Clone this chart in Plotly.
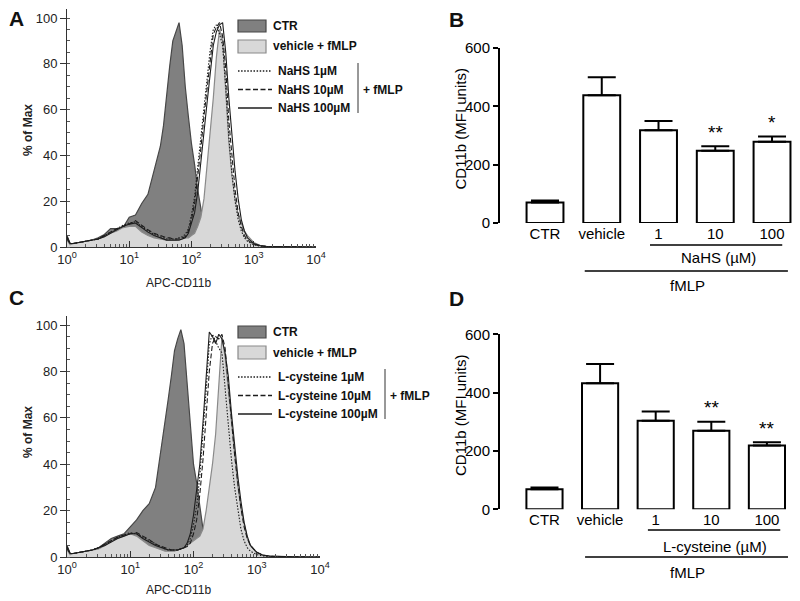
import plotly.graph_objects as go

# ---------------- DATA ----------------
# histogram channel grid (decade exponent of APC-CD11b fluorescence)
x_exp = [0.0, 0.05, 0.1, 0.2, 0.3, 0.4, 0.5, 0.6, 0.7, 0.8, 0.9, 1.0, 1.1, 1.2, 1.3, 1.4, 1.5,
         1.55, 1.6, 1.65, 1.7, 1.75, 1.8, 1.85, 1.9, 1.95, 2.0, 2.05, 2.1, 2.15, 2.2, 2.25, 2.3,
         2.35, 2.4, 2.45, 2.5, 2.55, 2.6, 2.65, 2.7, 2.75, 2.8, 2.85, 2.9, 3.0, 3.1, 3.2, 3.4,
         3.6, 3.8, 4.0]

# Panel A (% of Max)
A_ctr = [5, 1.5, 1.5, 2, 2.5, 3, 4, 5.5, 8, 8, 8.5, 13, 14, 19, 23, 34, 44,
         53, 67, 79, 90, 94, 98, 88, 70, 57, 45, 36, 25, 17, 9, 5, 3,
         2, 1.5, 1, 1, 0.7, 0.5, 0.4, 0.3, 0.2, 0.2, 0.1, 0.1, 0, 0, 0, 0,
         0, 0, 0]
A_vehicle = [3, 1, 1.5, 2, 2.5, 3, 3.5, 4.5, 6, 7, 8.5, 9, 9, 6.5, 5, 4, 3.5,
             3, 3, 3, 3, 3, 3.5, 3.5, 4, 4, 5, 6, 9, 13, 21, 35, 50,
             65, 83, 95, 90, 66, 46, 31, 21, 14, 10, 7, 5, 2, 0.7, 0.3, 0.2,
             0.1, 0.1, 0]
A_nahs1 = [4, 1.5, 1.5, 2, 2.5, 3, 3.5, 5, 6.5, 8, 9.5, 10.5, 11, 9, 7, 5.5, 4.5,
           4, 3.5, 3.5, 3.5, 3.5, 4, 4.5, 5.5, 8, 14, 22, 35, 48, 60, 72, 86,
           95, 97, 93, 88, 70, 48, 32, 20, 12, 7, 4, 2.5, 1, 0.4, 0.2, 0.1,
           0.1, 0, 0]
A_nahs10 = [3.5, 1.5, 1.5, 2, 2.5, 3, 3.5, 5, 6.5, 8, 9, 10, 11.5, 9.5, 7.5, 6, 5,
            4.5, 4, 4, 3.5, 3.5, 3.5, 4, 4.5, 7, 12, 19, 30, 43, 57, 70, 83,
            93, 96, 98, 92, 78, 55, 38, 25, 15, 9, 5, 3, 1.2, 0.5, 0.2, 0.1,
            0.1, 0, 0]
A_nahs100 = [4.5, 1.5, 1.5, 2, 2.5, 3, 3.5, 4.5, 6, 7.5, 9, 10, 10.5, 8.5, 6.5, 5, 4,
             3.5, 3, 3, 3, 3, 3, 3.5, 4, 6, 10, 15, 24, 36, 50, 63, 77,
             88, 94, 97, 98, 85, 65, 47, 33, 21, 12, 7, 4, 1.5, 0.6, 0.3, 0.1,
             0.1, 0, 0]

# Panel C (% of Max)
C_ctr = [5, 1.5, 1.5, 2, 2.5, 3, 4, 6, 8, 9, 10, 13, 16, 20, 23, 30, 48,
         58, 68, 78, 89, 94, 98, 92, 74, 55, 40, 32, 22, 12, 6, 3, 2,
         1.5, 1, 0.8, 0.5, 0.4, 0.3, 0.2, 0.2, 0.1, 0.1, 0.1, 0, 0, 0, 0, 0,
         0, 0, 0]
C_vehicle = [3, 1, 1.5, 2, 2.5, 3, 3.5, 5, 7, 8, 9, 10, 9, 7, 5, 4, 3,
             2.5, 2.5, 2.5, 2.5, 3, 3.5, 4, 5, 6, 7, 8, 9, 12, 20, 30, 40,
             53, 75, 95, 86, 72, 59, 42, 31, 21, 14, 8, 5, 1.7, 0.7, 0.4, 0.2,
             0.1, 0.1, 0]
C_lcys1 = [4, 1.5, 1.5, 2, 2.5, 3, 4, 5.5, 7, 8.5, 9.5, 10.5, 10, 8.5, 7, 5.5, 4,
           3.5, 3, 3, 3, 3, 3.5, 4, 5, 8, 14, 22, 35, 52, 72, 92, 96,
           93, 90, 88, 72, 55, 42, 30, 20, 12, 7, 4, 2.5, 1, 0.4, 0.2, 0.1,
           0, 0, 0]
C_lcys10 = [3.5, 1.5, 1.5, 2, 2.5, 3, 4, 5.5, 7, 8.5, 9.5, 10, 10.5, 9, 7.5, 5.5, 4.5,
            4, 3.5, 3, 3, 3, 3.5, 4, 4.5, 6, 10, 16, 27, 42, 60, 80, 92,
            95, 94, 96, 90, 74, 58, 44, 32, 21, 13, 8, 5, 2, 0.8, 0.3, 0.1,
            0.1, 0, 0]
C_lcys100 = [4.5, 1.5, 1.5, 2, 2.5, 3, 4, 5, 6.5, 8, 9, 10, 10, 8, 6.5, 5, 4,
             3.5, 3, 3, 3, 3, 3.5, 4, 6, 10, 18, 28, 40, 58, 78, 97, 95,
             92, 96, 94, 88, 78, 62, 48, 35, 24, 15, 9, 5, 2, 0.8, 0.4, 0.1,
             0.1, 0, 0]

# Bar panels (CD11b MFI units, mean and SEM)
categories = ["CTR", "vehicle", "1", "10", "100"]
B_mean = [70, 438, 318, 248, 279]
B_sem = [7, 62, 32, 15, 18]
B_sig = ["", "", "", "**", "*"]
D_mean = [69, 432, 304, 269, 219]
D_sem = [6, 66, 31, 31, 11]
D_sig = ["", "", "", "**", "**"]

hist_yticks = [0, 20, 40, 60, 80, 100]
hist_xticks = [1, 10, 100, 1000, 10000]
hist_xticktext = ["10<sup>0</sup>", "10<sup>1</sup>", "10<sup>2</sup>", "10<sup>3</sup>", "10<sup>4</sup>"]
bar_yticks = [0, 200, 400, 600]

# ---------------- FIGURE ----------------
# the page body has an 8px default margin, so the figure is drawn 8px smaller
OFF = 8
W, H = 800 - OFF, 601 - OFF
FONT = "Liberation Sans, Arial, sans-serif"
DARK_FILL, DARK_LINE = "#808080", "#474747"
LIGHT_FILL, LIGHT_LINE = "#d8d8d8", "#8a8a8a"
INK = "#1c1c1c"
DOT = "1.5px,1.6px"
DASH = "5px,2.5px"


def X(px):
    return (px - OFF) / W


def Y(py):
    return 1 - (py - OFF) / H


fig = go.Figure()
xs = [10 ** e for e in x_exp]


def hist_panel(xa, ya, ctr, veh, s1, s10, s100):
    fig.add_trace(go.Scatter(x=xs, y=ctr, xaxis=xa, yaxis=ya, mode="lines", fill="tozeroy",
                             fillcolor=DARK_FILL, line=dict(color=DARK_LINE, width=1.2),
                             showlegend=False, hoverinfo="skip"))
    fig.add_trace(go.Scatter(x=xs, y=veh, xaxis=xa, yaxis=ya, mode="lines", fill="tozeroy",
                             fillcolor=LIGHT_FILL, line=dict(color=LIGHT_LINE, width=1.2),
                             showlegend=False, hoverinfo="skip"))
    for yv, dash in [(s1, DOT), (s10, DASH), (s100, "solid")]:
        fig.add_trace(go.Scatter(x=xs, y=yv, xaxis=xa, yaxis=ya, mode="lines",
                                 line=dict(color=INK, width=1.1, dash=dash),
                                 showlegend=False, hoverinfo="skip"))


hist_panel("x", "y", A_ctr, A_vehicle, A_nahs1, A_nahs10, A_nahs100)
hist_panel("x3", "y3", C_ctr, C_vehicle, C_lcys1, C_lcys10, C_lcys100)


def bar_panel(xa, ya, mean, sem):
    fig.add_trace(go.Bar(x=list(range(len(categories))), y=mean, xaxis=xa, yaxis=ya, width=0.65,
                         marker=dict(color="white", line=dict(color="black", width=2)),
                         error_y=dict(type="data", array=sem, arrayminus=[0] * len(sem),
                                      symmetric=False, color="black", thickness=2, width=14),
                         showlegend=False, hoverinfo="skip"))


bar_panel("x2", "y2", B_mean, B_sem)
bar_panel("x4", "y4", D_mean, D_sem)

minor_vals = [m * 10 ** k for k in range(4) for m in range(2, 10)]


def hist_axes(x_dom, y_dom, anchor_x, anchor_y):
    xa = dict(type="log", range=[0, 4], domain=x_dom, anchor=anchor_y, showline=True,
              linecolor="#333", linewidth=1, ticks="inside", ticklen=6, tickcolor="#333",
              tickvals=hist_xticks, ticktext=hist_xticktext, showgrid=False, zeroline=False,
              tickfont=dict(family=FONT, size=13, color="#222"),
              minor=dict(ticks="inside", ticklen=3, tickcolor="#555", tickvals=minor_vals))
    ya = dict(range=[0, 104], domain=y_dom, anchor=anchor_x, showline=True, linecolor="#333",
              linewidth=1, ticks="outside", ticklen=6, tickcolor="#333", tickvals=hist_yticks,
              showgrid=False, zeroline=False, tickfont=dict(family=FONT, size=13, color="#222"),
              minor=dict(ticks="inside", ticklen=3, tickcolor="#555", dtick=5, tick0=0))
    return xa, ya


def bar_axes(x_dom, x_rng, y_dom, anchor_x, anchor_y):
    xa = dict(range=x_rng, domain=x_dom, anchor=anchor_y, showline=False, zeroline=False,
              showgrid=False, ticks="", tickvals=list(range(len(categories))), ticktext=categories,
              tickfont=dict(family=FONT, size=15, color="black"))
    ya = dict(range=[0, 600], domain=y_dom, anchor=anchor_x, showline=True, linecolor="black",
              linewidth=2, ticks="outside", ticklen=5, tickwidth=2, tickcolor="black",
              tickvals=bar_yticks, showgrid=False, zeroline=False,
              tickfont=dict(family=FONT, size=15, color="black"))
    return xa, ya


xa1, ya1 = hist_axes([X(67), X(316)], [Y(247), Y(247 - 104 * 2.29)], "x", "y")
xa3, ya3 = hist_axes([X(67), X(320)], [Y(557), Y(557 - 104 * 2.32)], "x3", "y3")
xa2, ya2 = bar_axes([X(500), 1.0], [-0.793, 4.493], [Y(223), Y(48)], "x2", "y2")
xa4, ya4 = bar_axes([X(500), 1.0], [-0.80, 4.595], [Y(509.3), Y(334.3)], "x4", "y4")

annotations = []
shapes = []


def txt(x, y, s, size=12, bold=False, xanchor="center", angle=0, color="#111", xref="paper", yref="paper"):
    annotations.append(dict(x=x, y=y, xref=xref, yref=yref, text=("<b>%s</b>" % s) if bold else s,
                            showarrow=False, xanchor=xanchor, yanchor="middle", textangle=angle,
                            font=dict(family=FONT, size=size, color=color)))


# panel letters
txt(X(16), Y(18), "A", 21, True)
txt(X(456), Y(19), "B", 21, True)
txt(X(16), Y(297), "C", 21, True)
txt(X(456), Y(298), "D", 21, True)

# histogram axis titles
for yc, yt in [(130, 283), (432, 590)]:
    txt(X(28), Y(yc), "% of Max", 12, True, angle=-90, color="#222")
    txt(X(178), Y(yt), "APC-CD11b", 12, False, color="#222")


# histogram legends
def hist_legend(top, names, bar_x):
    shapes.append(dict(type="rect", xref="paper", yref="paper", x0=X(238), x1=X(266),
                       y0=Y(top + 12), y1=Y(top), fillcolor=DARK_FILL,
                       line=dict(color=DARK_LINE, width=1.2)))
    txt(X(271), Y(top + 6), "CTR", 12, True, xanchor="left", color="#111")
    shapes.append(dict(type="rect", xref="paper", yref="paper", x0=X(238), x1=X(266),
                       y0=Y(top + 33), y1=Y(top + 20), fillcolor=LIGHT_FILL,
                       line=dict(color=LIGHT_LINE, width=1.2)))
    txt(X(271), Y(top + 26.5), "vehicle + fMLP", 12, True, xanchor="left", color="#111")
    for i, (nm, dash) in enumerate(zip(names, [DOT, DASH, "solid"])):
        yy = top + 51 + 18.5 * i
        shapes.append(dict(type="line", xref="paper", yref="paper", x0=X(238), x1=X(272),
                           y0=Y(yy), y1=Y(yy), line=dict(color=INK, width=1.3, dash=dash)))
        txt(X(276), Y(yy), nm, 12, True, xanchor="left", color="#111")
    shapes.append(dict(type="line", xref="paper", yref="paper", x0=X(bar_x), x1=X(bar_x),
                       y0=Y(top + 43), y1=Y(top + 93), line=dict(color="#333", width=1)))
    txt(X(bar_x + 3), Y(top + 69.5), "+ fMLP", 12, True, xanchor="left", color="#111")


hist_legend(20, ["NaHS 1µM", "NaHS 10µM", "NaHS 100µM"], 358)
hist_legend(326, ["L-cysteine 1µM", "L-cysteine 10µM", "L-cysteine 100µM"], 385)

# bar panel titles, significance and brackets
for (xa, ya, ycen, mean, sem, sig, br1, br2, ybr1, ybr2, lab, xlab, ylab1, ylab2) in [
    ("x2", "y2", 129.5, B_mean, B_sem, B_sig, (1.85, 4.18), (0.70, 4.28), 245, 271, "NaHS (µM)", 718, 258, 285),
    ("x4", "y4", 416, D_mean, D_sem, D_sig, (1.86, 4.24), (0.73, 4.38), 530, 557, "L-cysteine (µM)", 715, 546, 572),
]:
    txt(X(460), Y(ycen), "CD11b (MFI units)", 15, angle=-90, color="black")
    for i, s in enumerate(sig):
        if s:
            annotations.append(dict(x=i, y=mean[i] + sem[i] + 5, xref=xa, yref=ya, text=s,
                                    showarrow=False, xanchor="center", yanchor="bottom",
                                    font=dict(family=FONT, size=19, color="black")))
    shapes.append(dict(type="line", xref=xa, yref="paper", x0=br1[0], x1=br1[1], y0=Y(ybr1), y1=Y(ybr1),
                       line=dict(color="black", width=1.6)))
    shapes.append(dict(type="line", xref=xa, yref="paper", x0=br2[0], x1=br2[1], y0=Y(ybr2), y1=Y(ybr2),
                       line=dict(color="black", width=1.6)))
    txt(X(xlab), Y(ylab1), lab, 15, color="black")
    txt(X(687), Y(ylab2), "fMLP", 15, color="black")

fig.update_layout(
    width=W, height=H, margin=dict(l=0, r=0, t=0, b=0, pad=0, autoexpand=False),
    paper_bgcolor="white", plot_bgcolor="white", showlegend=False,
    xaxis=xa1, yaxis=ya1, xaxis2=xa2, yaxis2=ya2, xaxis3=xa3, yaxis3=ya3, xaxis4=xa4, yaxis4=ya4,
    annotations=annotations, shapes=shapes, bargap=0.35,
    font=dict(family=FONT),
)

fig.write_html("out.html")
